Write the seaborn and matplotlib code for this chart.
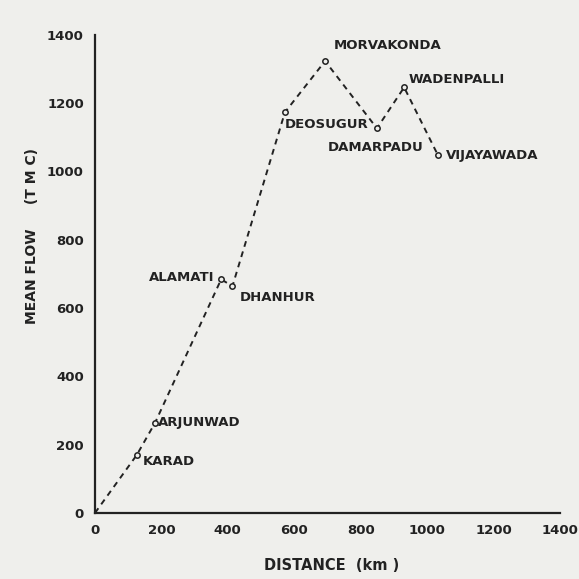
import numpy as np
import pandas as pd
import matplotlib
matplotlib.use("Agg")
import matplotlib.pyplot as plt
import seaborn as sns

# Stations along the river: distance (km) and mean flow (TMC)
stations = ["", "KARAD", "ARJUNWAD", "ALAMATI", "DHANHUR", "DEOSUGUR",
            "MORVAKONDA", "DAMARPADU", "WADENPALLI", "VIJAYAWADA"]
distance = [0, 126, 181, 380, 414, 572, 693, 849, 931, 1033]
mean_flow = [0, 170, 264, 684, 664, 1173, 1323, 1126, 1246, 1047]

x_ticks = [0, 200, 400, 600, 800, 1000, 1200, 1400]
y_ticks = [0, 200, 400, 600, 800, 1000, 1200, 1400]

df = pd.DataFrame({"station": stations, "distance": distance, "flow": mean_flow})

sns.set_theme(style="white")
plt.rcParams["font.family"] = ["DejaVu Sans"]

fig = plt.figure(figsize=(5.79, 5.79), dpi=100)
fig.patch.set_facecolor("#efefec")
ax = fig.add_axes([0.164, 0.114, 0.803, 0.826])
ax.set_facecolor("#efefec")

sns.lineplot(data=df, x="distance", y="flow", sort=False, ax=ax,
             color="#222222", linewidth=1.4, linestyle=(0, (3, 2.5)))
sns.scatterplot(data=df.iloc[1:], x="distance", y="flow", ax=ax,
                marker="o", s=15, facecolor="#efefec", edgecolor="#222222",
                linewidth=1.1, zorder=3)

# label placement (offset in points, horizontal alignment)
offsets = {
    "KARAD": (4, -5, "left"),
    "ARJUNWAD": (2, 0, "left"),
    "ALAMATI": (-5, 1, "right"),
    "DHANHUR": (5, -8, "left"),
    "DEOSUGUR": (0, -9, "left"),
    "MORVAKONDA": (6, 11, "left"),
    "DAMARPADU": (-1, -14, "center"),
    "WADENPALLI": (3, 6, "left"),
    "VIJAYAWADA": (6, 0, "left"),
}
for _, row in df.iloc[1:].iterrows():
    dx, dy, ha = offsets[row["station"]]
    ax.annotate(row["station"], (row["distance"], row["flow"]),
                xytext=(dx, dy), textcoords="offset points",
                ha=ha, va="center", fontsize=9.5, fontweight="bold",
                color="#222222")

ax.set_xlim(0, 1400)
ax.set_ylim(0, 1400)
ax.set_xticks(x_ticks)
ax.set_yticks(y_ticks)
ax.tick_params(direction="in", length=5, width=1.2, colors="#222222",
               labelsize=9.5, pad=8)
for lab in ax.get_xticklabels() + ax.get_yticklabels():
    lab.set_fontweight("bold")

for side in ["top", "right"]:
    ax.spines[side].set_visible(False)
for side in ["left", "bottom"]:
    ax.spines[side].set_color("#222222")
    ax.spines[side].set_linewidth(1.6)

ax.set_xlabel("DISTANCE  (km )", fontsize=10.5, fontweight="bold",
              color="#222222")
ax.set_ylabel("MEAN FLOW     (T M C)", fontsize=10, fontweight="bold",
              color="#222222")
ax.xaxis.set_label_coords(0.51, -0.095)
ax.yaxis.set_label_coords(-0.12, 0.58)

fig.savefig("out.png", dpi=100, facecolor=fig.get_facecolor())
